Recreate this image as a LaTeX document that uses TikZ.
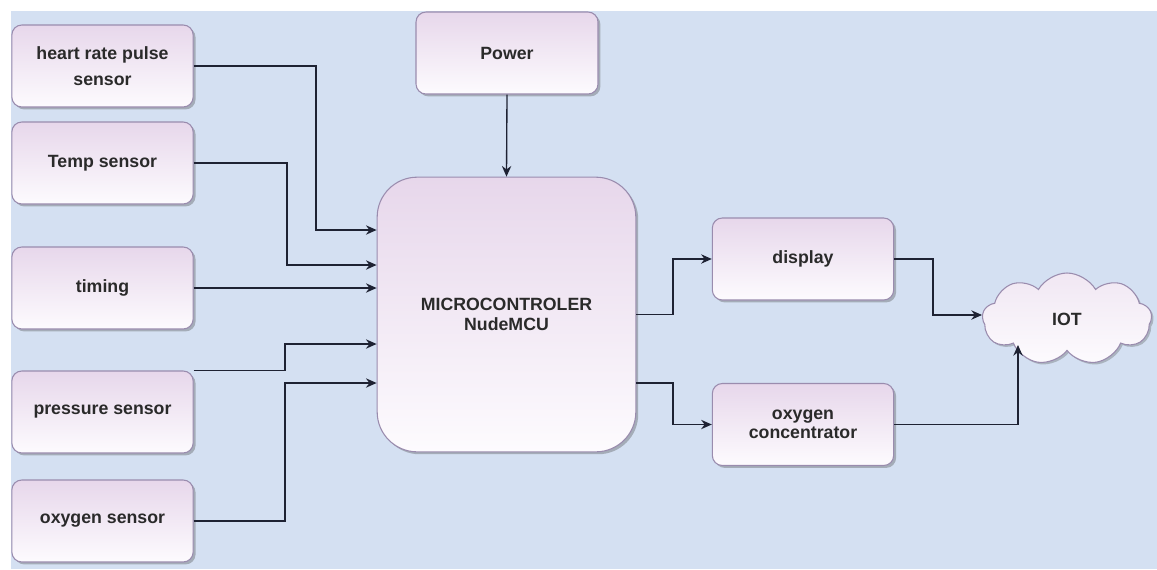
\documentclass[tikz,border=0pt]{standalone}
\usepackage{fontspec}
\setmainfont{Liberation Sans}
\usetikzlibrary{shapes.symbols,shadows,arrows.meta,calc}
\definecolor{bg}{HTML}{D4E0F2}
\definecolor{boxtop}{HTML}{E7D7EB}
\definecolor{boxbot}{HTML}{FDFBFE}
\definecolor{boxline}{HTML}{9A8CAE}
\definecolor{txt}{HTML}{2A2A2A}
\definecolor{wire}{HTML}{1E2233}
\tikzset{
  blk/.style={rectangle, rounded corners=7.5pt, draw=boxline, line width=0.8pt,
    top color=boxtop, bottom color=boxbot,
    drop shadow={shadow xshift=1.8pt, shadow yshift=-1.8pt, opacity=0.35, fill=black!70},
    minimum width=136pt, minimum height=61.5pt, inner sep=0pt, align=center,
    font=\fontsize{13.3}{14.5}\selectfont\bfseries, text=txt},
  arr/.style={draw=wire, line width=1pt, -{Stealth[length=8pt,width=7pt]}}
}
\begin{document}
\begin{tikzpicture}[x=0.75pt,y=-0.75pt]
\useasboundingbox (0,0) rectangle (1157,569);
\fill[white] (0,0) rectangle (1157,569);
\fill[bg] (11,11) rectangle (1157,569);
% left column
\node[blk] (hr) at (102.5,66) {heart rate pulse\\[5pt]sensor};
\node[blk] (temp) at (102.5,163) {Temp sensor};
\node[blk] (timing) at (102.5,288) {timing};
\node[blk] (press) at (102.5,412) {pressure sensor};
\node[blk] (oxy) at (102.5,521) {oxygen sensor};
% power and mcu
\node[blk, minimum width=136.5pt] (power) at (507,53) {Power};
\node[blk, rounded corners=30pt, minimum width=194pt, minimum height=206pt] (mc) at (506.5,314.5) {MICROCONTROLER\\NudeMCU};
% outputs
\node[blk] (disp) at (803,259) {display};
\node[blk] (conc) at (803,424.5) {oxygen\\concentrator};
\node[cloud, cloud puffs=9, cloud puff arc=120, aspect=1.85, draw=boxline, line width=0.8pt,
  top color=boxtop!60, bottom color=boxbot,
  drop shadow={shadow xshift=1.5pt, shadow yshift=-1.5pt, opacity=0.3, fill=black!70},
  minimum width=127pt, minimum height=69pt, inner sep=0pt,
  font=\fontsize{13.3}{14.5}\selectfont\bfseries, text=txt] (iot) at (1067,319) {IOT};
% bend points
\coordinate (b1) at (316,230);
\coordinate (b2) at (287,265);
\coordinate (b3) at (285,344);
\coordinate (b4) at (285,383);
\coordinate (b5) at (673,259);
\coordinate (s6) at (650,383);
\coordinate (b6) at (673,424.5);
\coordinate (b7) at (933,315);
\coordinate (b8) at (1018,345);
% connectors
\draw[arr] (hr.east) -| (b1) -- (mc.west |- b1);
\draw[arr] (temp.east) -| (b2) -- (mc.west |- b2);
\draw[arr] (timing.east) -- (mc.west |- timing.east);
\draw[arr] (press.north east) -| (b3) -- (mc.west |- b3);
\draw[arr] (oxy.east) -| (b4) -- (mc.west |- b4);
\draw[arr] (power.south) -- (mc.north);
\draw[arr] (mc.east) -| (b5) -- (disp.west);
\draw[arr] (mc.east |- s6) -| (b6) -- (conc.west);
\draw[arr] (disp.east) -| (b7) -- (b7 -| iot.west);
\draw[arr] (conc.east) -| (b8);
\end{tikzpicture}
\end{document}
